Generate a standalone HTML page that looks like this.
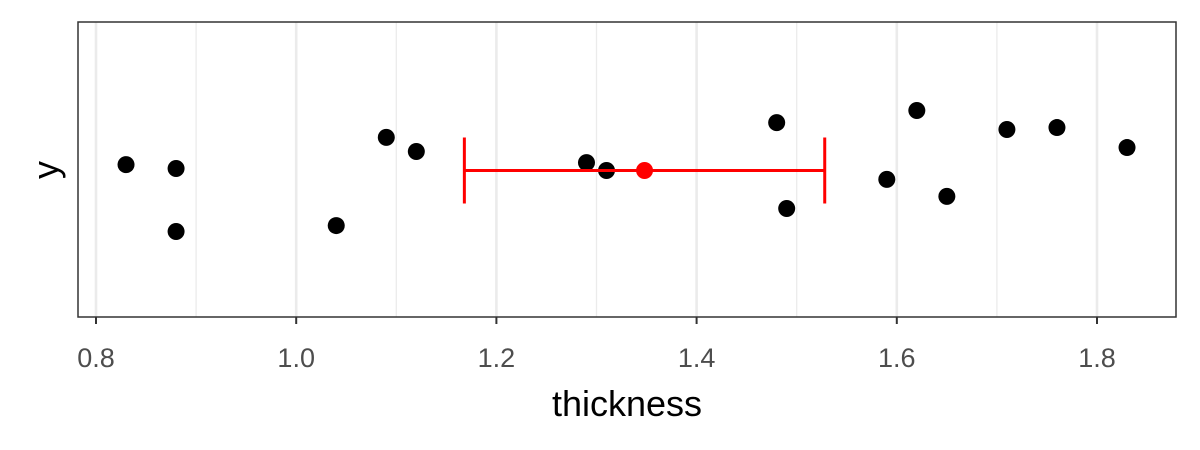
<!DOCTYPE html>
<html><head><meta charset="utf-8"><style>body{margin:0;background:#fff}svg{display:block}</style></head>
<body>
<svg id="chart" width="1200" height="450" xmlns="http://www.w3.org/2000/svg" font-family="Liberation Sans, sans-serif"></svg>
<script>
const thickness = [0.83,0.88,0.88,1.04,1.09,1.12,1.29,1.31,1.48,1.49,1.59,1.62,1.65,1.71,1.76,1.83];
const jitterY = [1.018,1.006,0.814,0.832,1.101,1.058,1.024,1.0,1.146,0.884,0.973,1.183,0.921,1.125,1.131,1.070];
const summaryMean = [1.348];
const summaryLow = [1.168];
const summaryHigh = [1.528];
const xTicks = [0.8,1.0,1.2,1.4,1.6,1.8];
const xTickLabels = ["0.8","1.0","1.2","1.4","1.6","1.8"];
const xMinor = [0.9,1.1,1.3,1.5,1.7];

const svg = document.getElementById('chart');
const NS = 'http://www.w3.org/2000/svg';
const L=78,R=1176,T=22,B=317;
const xs = v => 96 + (v-0.8)*1001;
const ys = v => 318 - (v-0.55)/0.9*295;
function mk(tag, attrs, parent){const e=document.createElementNS(NS,tag);for(const k in attrs)e.setAttribute(k,attrs[k]);(parent||svg).appendChild(e);return e;}

const panel = mk('rect',{x:L,y:T,width:R-L,height:B-T,fill:'#fff'});


xMinor.forEach(v=>{const l=mk('line',{x1:xs(v),x2:xs(v),y1:T,y2:B,stroke:'#ebebeb','stroke-width':1.3});

});
xTicks.forEach((v,i)=>{const l=mk('line',{x1:xs(v),x2:xs(v),y1:T,y2:B,stroke:'#ebebeb','stroke-width':2.6});


const t=mk('line',{x1:xs(v),x2:xs(v),y1:B,y2:B+7,stroke:'#333','stroke-width':2});


const tx=mk('text',{x:xs(v),y:367,'text-anchor':'middle','font-size':27,fill:'#4d4d4d'});tx.textContent=xTickLabels[i];

});
thickness.forEach((v,i)=>{const c=mk('circle',{cx:xs(v),cy:ys(jitterY[i]),r:8.5,fill:'#000'});

});
const cy=ys(1.0);
const g=mk('g',{stroke:'#ff0000','stroke-width':3,fill:'none'});


mk('line',{x1:xs(summaryLow[0]),x2:xs(summaryHigh[0]),y1:cy,y2:cy},g);
mk('line',{x1:xs(summaryLow[0]),x2:xs(summaryLow[0]),y1:cy-33,y2:cy+33},g);
mk('line',{x1:xs(summaryHigh[0]),x2:xs(summaryHigh[0]),y1:cy-33,y2:cy+33},g);
const m=mk('circle',{cx:xs(summaryMean[0]),cy:cy,r:8.5,fill:'#ff0000'});


const border=mk('rect',{x:L,y:T,width:R-L,height:B-T,fill:'none',stroke:'#333','stroke-width':1.5});


const xt=mk('text',{x:627,y:416,'text-anchor':'middle','font-size':36,fill:'#000'});xt.textContent='thickness';


const yt=mk('text',{x:0,y:0,'text-anchor':'middle','font-size':36,fill:'#000',transform:'translate(58,170) rotate(-90)'});yt.textContent='y';


</script>
</body></html>
